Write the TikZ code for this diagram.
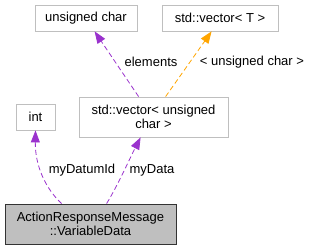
\documentclass[tikz,border=0pt]{standalone}
\usepackage{fontspec}
\setmainfont{Liberation Sans}
\usetikzlibrary{arrows.meta,calc}
\definecolor{edgepurple}{HTML}{9A32CD}
\definecolor{edgeorange}{HTML}{FFA500}
\definecolor{boxgray}{HTML}{BFBFBF}
\begin{document}
\begin{tikzpicture}[x=1pt,y=-1pt,
  every node/.style={font=\fontsize{13}{14.5}\selectfont, inner sep=0pt},
  cls/.style={draw=boxgray, line width=0.8pt, fill=white, align=center},
  mainbox/.style={draw=black!80, line width=0.8pt, fill=boxgray, align=center},
  rel/.style={dashed, dash pattern=on 5pt off 3pt, line width=0.8pt, -{Triangle[length=12pt,width=9pt]}},
  lbl/.style={}
]
\useasboundingbox (0,0) rectangle (309,251);
\node[cls, minimum width=102pt, minimum height=26pt] (uc) at (86,18) {unsigned char};
\node[cls, minimum width=116pt, minimum height=26pt] (vecT) at (220,18) {std::vector< T >};
\node[cls, minimum width=149pt, minimum height=40pt] (vecUC) at (153.5,117) {std::vector< unsigned\\char >};
\node[cls, minimum width=39pt, minimum height=26pt] (int) at (35.5,117) {int};
\node[mainbox, minimum width=171pt, minimum height=40pt] (main) at (90.5,224) {ActionResponseMessage\\::VariableData};

\coordinate (e1s) at ($(vecUC.north west)+(60,0)$);
\coordinate (e1t) at ($(uc.south west)+(60,0)$);
\draw[rel, edgepurple] (e1s) -- (e1t);
\coordinate (e2s) at ($(vecUC.north west)+(87,0)$);
\coordinate (e2t) at ($(vecT.south west)+(50,0)$);
\draw[rel, edgeorange] (e2s) -- (e2t);
\coordinate (e3s) at ($(main.north west)+(57,0)$);
\draw[rel, edgepurple] (e3s) .. controls (45,188) and (35,165) .. (int.south);
\coordinate (e4s) at ($(main.north west)+(102,0)$);
\coordinate (e4t) at ($(vecUC.south west)+(62,0)$);
\draw[rel, edgepurple] (e4s) .. controls (118,185) and (130,158) .. (e4t);

\node[lbl] (l1) at (151,62) {elements};
\node[lbl] (l2) at (252,62) {< unsigned char >};
\node[lbl] (l3) at (82,170) {myDatumId};
\node[lbl] (l4) at (152,170) {myData};
\end{tikzpicture}
\end{document}
